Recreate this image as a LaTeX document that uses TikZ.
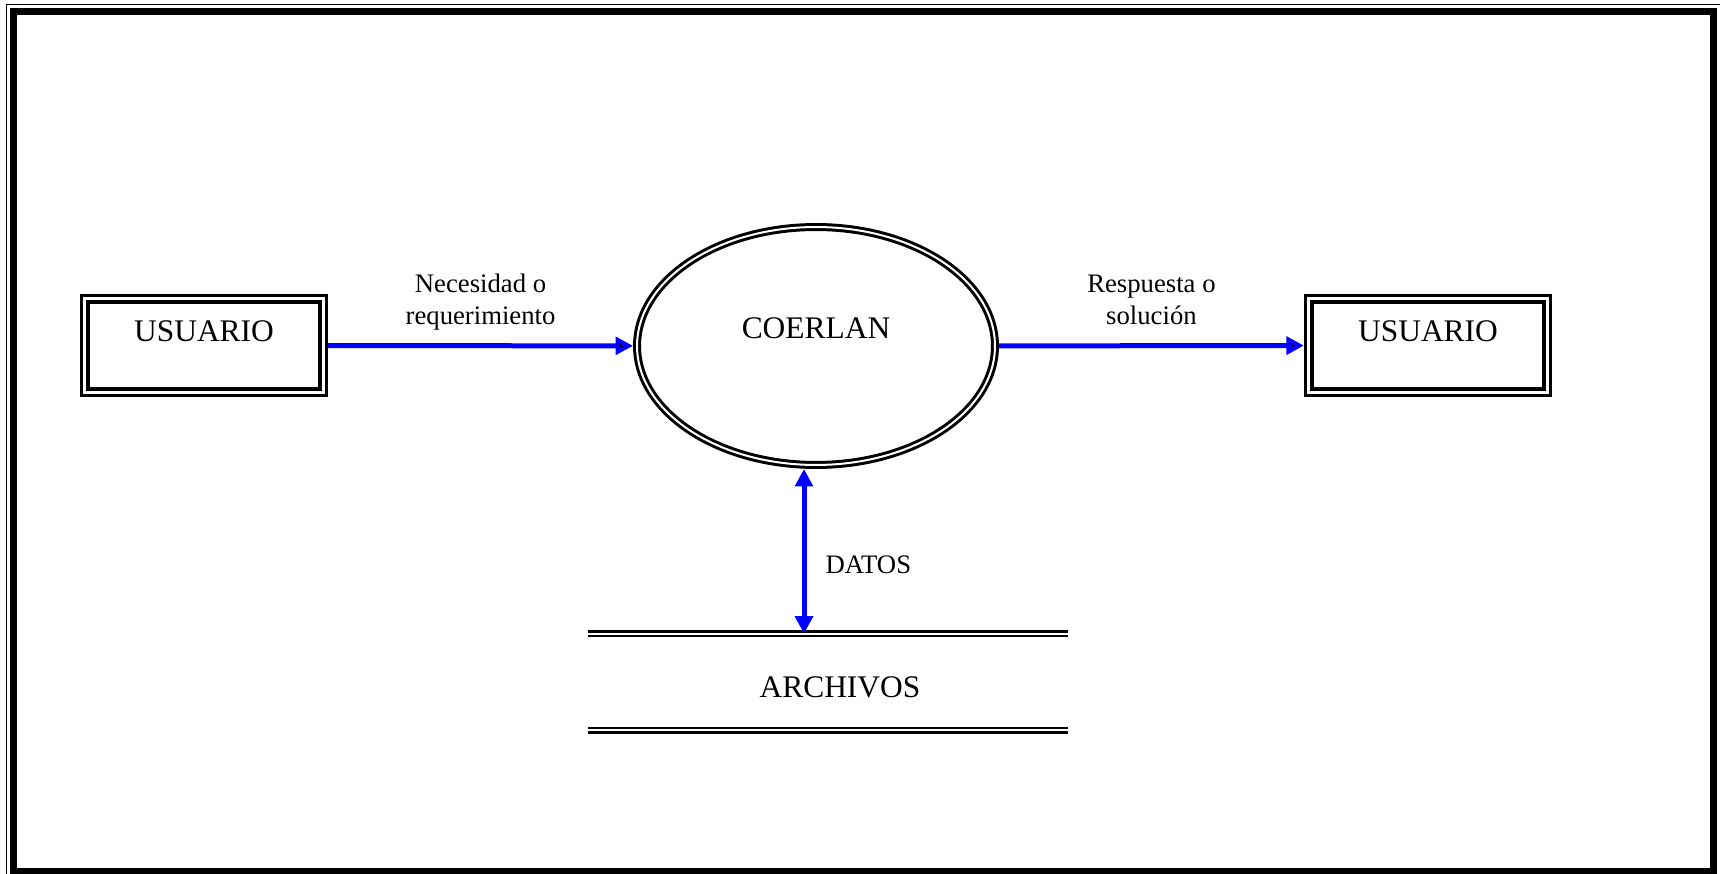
\documentclass[tikz,border=0pt]{standalone}
\usepackage{fontspec}
\setmainfont{Liberation Serif}
\usetikzlibrary{arrows.meta, positioning, calc, shapes.geometric}
\newcommand{\bigtxt}{\fontsize{17.9pt}{21pt}\selectfont}
\newcommand{\smalltxt}{\fontsize{15.2pt}{18.2pt}\selectfont}

\begin{document}
\begin{tikzpicture}[x=0.02cm, y=-0.02cm, >={Triangle[length=0.35cm, width=0.35cm]}]
        \tikzstyle{entity}=[draw, double, line width=2pt, double distance=1.5pt, outer sep=2.75pt, rectangle, minimum width=4.77cm, minimum height=1.87cm, inner sep=0pt, text height=0.44cm, text depth=0.58cm, font=\bigtxt];
        \tikzstyle{proc}=[draw, double, ellipse, line width=1.7pt, double distance=1.15pt, outer sep=2.27pt, minimum width=7.16cm, minimum height=4.76cm, inner sep=0pt, text height=0.44cm, text depth=0.76cm, font=\bigtxt];
        \tikzstyle{store}=[rectangle, minimum width=9.6cm, minimum height=1.92cm, inner sep=0pt, text height=0.6cm, text depth=0pt, font=\bigtxt];
        \tikzstyle{storeline}=[line width=1.4pt, double, double distance=1.15pt];
        \tikzstyle{flow}=[draw=blue, line width=0.1cm];
        \tikzstyle{lbl}=[font=\smalltxt, inner sep=0pt, align=center];

        \useasboundingbox (0,0) rectangle (1720,874);
        \clip (0,0) rectangle (1720,874);
        % marco
        \draw[line width=0.7pt] (6.5,4.5) rectangle (1721,878);
        \draw[line width=0.14cm] (13.5,11.5) rectangle (1713.5,871.5);

        \node[entity] (usr1) at (204,345.5) {USUARIO};
        \node[proc] (coerlan) at (816,346) {COERLAN};
        \node[entity] (usr2) at (1428,345.5) {USUARIO};
        \node[store] (archivos) at (840,682) {ARCHIVOS};
        \draw[storeline] ([xshift=-0.24cm]archivos.north west) -- ([xshift=-0.24cm]archivos.north east);
        \draw[storeline] ([xshift=-0.24cm]archivos.south west) -- ([xshift=-0.24cm]archivos.south east);

        \path[flow, ->]
        (usr1) edge node[lbl, above=0.26cm, text depth=0.12cm] {Necesidad o\\requerimiento} (coerlan)
        (coerlan) edge node[lbl, above=0.26cm, text depth=0.12cm] {Respuesta o\\soluci\'on} (usr2);
        \draw[flow, <->] ([xshift=-0.24cm]coerlan.south) -- node[lbl, pos=0.58, right=0.38cm] {DATOS} ([xshift=-0.24cm]coerlan.south |- archivos.north);
      \end{tikzpicture}
\end{document}
